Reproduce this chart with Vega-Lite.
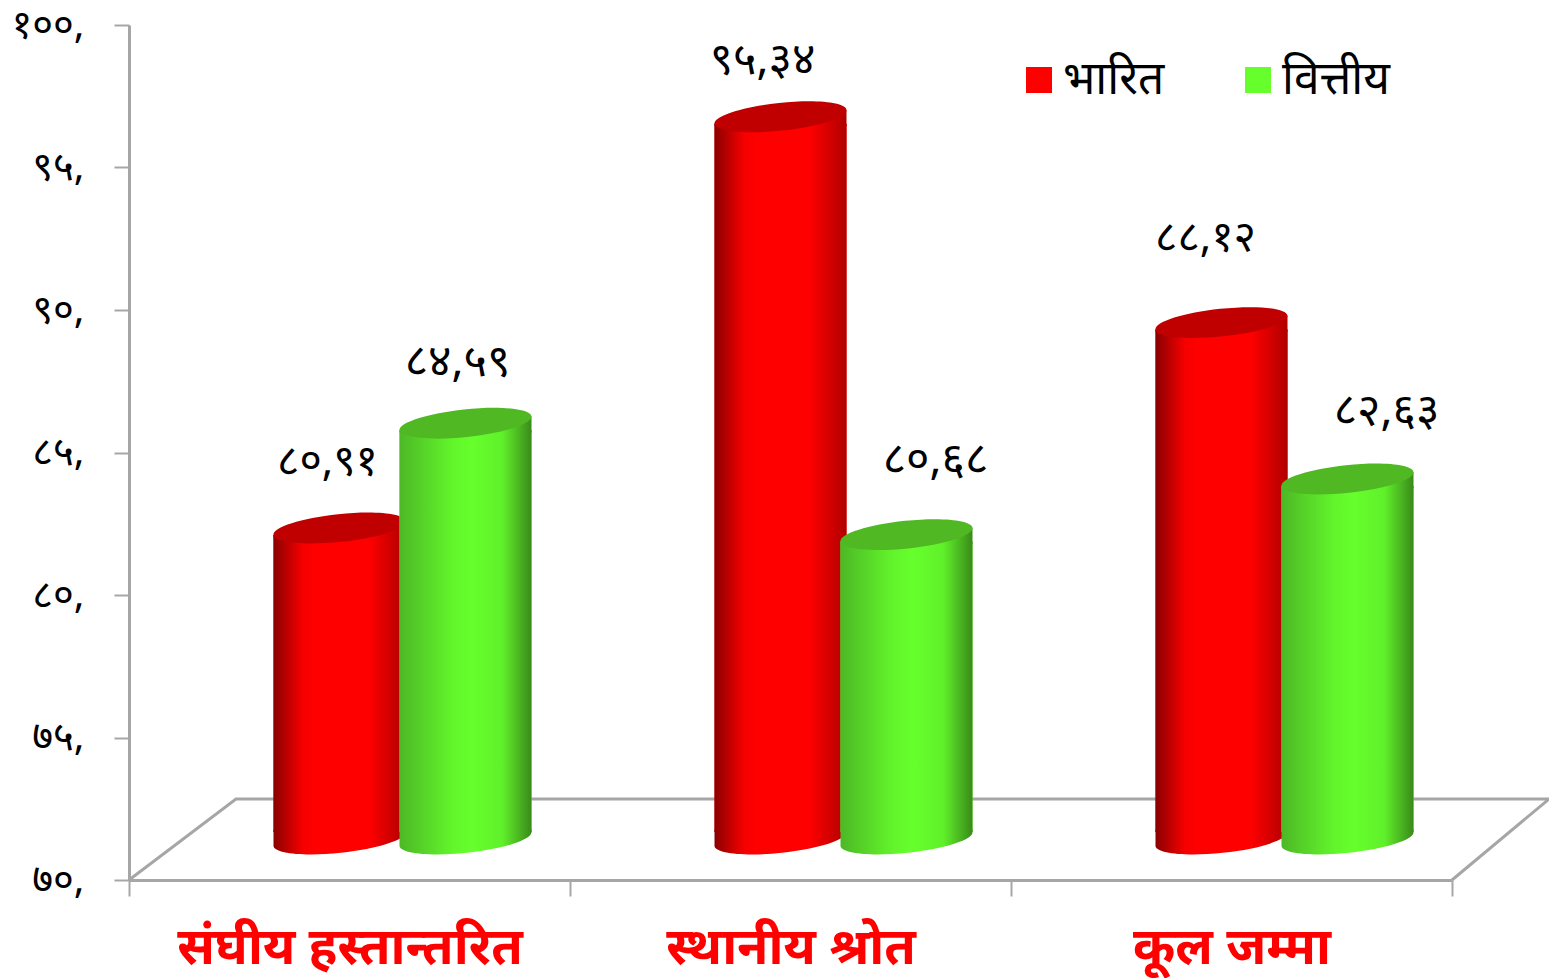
{"$schema":"https://vega.github.io/schema/vega-lite/v6.json","width":1323,"height":855,"autosize":{"type":"none"},"padding":{"left":129,"top":25,"right":97,"bottom":98},"background":"white","config":{"view":{"stroke":null}},
"datasets":{"bars":[
{"group":"संघीय हस्तान्तरित","series":"भारित","value":80.91,"label":"८०,९१"},
{"group":"संघीय हस्तान्तरित","series":"वित्तीय","value":84.59,"label":"८४,५९"},
{"group":"स्थानीय श्रोत","series":"भारित","value":95.34,"label":"९५,३४"},
{"group":"स्थानीय श्रोत","series":"वित्तीय","value":80.68,"label":"८०,६८"},
{"group":"कूल जम्मा","series":"भारित","value":88.12,"label":"८८,१२"},
{"group":"कूल जम्मा","series":"वित्तीय","value":82.63,"label":"८२,६३"}],
"floor":[{"o":0,"fx":0,"fv":70},{"o":1,"fx":107,"fv":72.84},{"o":2,"fx":1420,"fv":72.84},{"o":3,"fx":1323,"fv":70}]},
"layer":[
{"data":{"name":"floor"},"mark":{"type":"line","color":"#a6a6a6","strokeWidth":3,"clip":false},"encoding":{"x":{"field":"fx","type":"quantitative","axis":null,"scale":{"domain":[0,1323],"nice":false,"zero":false}},"y":{"field":"fv","type":"quantitative","scale":{"domain":[70,100],"nice":false,"zero":false},"axis":{"title":null,"values":[70,75,80,85,90,95,100],"grid":false,"domainColor":"#a6a6a6","domainWidth":3,"tickColor":"#a6a6a6","tickWidth":2,"tickSize":15,"labelFont":"Noto Sans","labelFontSize":40,"labelColor":"#000000","labelPadding":30,"labelExpr":"{'70':'७०,','75':'७५,','80':'८०,','85':'८५,','90':'९०,','95':'९५,','100':'१००,'}[datum.value]"}},"order":{"field":"o"}}},
{"data":{"name":"bars"},"encoding":{"x":{"field":"group","type":"nominal","sort":null,"scale":{"domain":["संघीय हस्तान्तरित","स्थानीय श्रोत","कूल जम्मा"],"paddingInner":0,"paddingOuter":0},"axis":{"title":null,"labelAngle":0,"tickBand":"extent","domainColor":"#a6a6a6","domainWidth":3,"tickColor":"#a6a6a6","tickWidth":2,"tickSize":16,"labelFont":"Noto Sans","labelFontWeight":"bold","labelFontSize":51,"labelColor":"#ff0000","labelPadding":27,"labelLimit":500}},
"y":{"field":"value","type":"quantitative"}},
"layer":[
{"transform":[{"filter":"datum.series==='भारित'"}],"layer":[
{"mark":{"type":"bar","width":132,"xOffset":-10,"yOffset":-34,"y2Offset":-48},"encoding":{"y2":{"datum":70},"color":{"field":"series","type":"nominal","scale":{"domain":["भारित","वित्तीय"],"range":["#ff0000","#66ff2c"]},"legend":{"title":null,"orient":"none","legendX":887,"legendY":32,"direction":"horizontal","columns":2,"symbolType":"square","symbolSize":676,"symbolStrokeWidth":0,"symbolOpacity":1,"labelFont":"Noto Sans","labelFontSize":46,"labelColor":"#000000","labelLimit":300,"labelOffset":1,"columnPadding":70}}}},
{"mark":{"type":"bar","width":132,"xOffset":-10,"yOffset":-34,"y2Offset":-48,"fill":{"gradient":"linear","x1":0,"y1":0,"x2":1,"y2":0,"stops":[{"offset":0,"color":"#8a0000"},{"offset":0.22,"color":"#f50000"},{"offset":0.32,"color":"#ff0000"},{"offset":0.72,"color":"#ff0000"},{"offset":1,"color":"#b00000"}]}},"encoding":{"y2":{"datum":70}}},
{"mark":{"type":"point","filled":true,"opacity":1,"size":17424,"xOffset":-10,"yOffset":-41,"shape":"M -1 0.105 L 1 -0.105 L 1 0.14 L -1 0.14 Z","fill":{"gradient":"linear","x1":0,"y1":0,"x2":1,"y2":0,"stops":[{"offset":0,"color":"#8a0000"},{"offset":0.22,"color":"#f50000"},{"offset":0.32,"color":"#ff0000"},{"offset":0.72,"color":"#ff0000"},{"offset":1,"color":"#b00000"}]}}},
{"mark":{"type":"point","filled":true,"opacity":1,"size":17424,"xOffset":-10,"yOffset":-41,"shape":"M 1 -0.105 A 1.005 0.21 -6 0 1 -1 0.105 L -1 -0.14 L 1 -0.14 Z","fill":{"gradient":"linear","x1":0,"y1":0,"x2":1,"y2":0,"stops":[{"offset":0,"color":"#8a0000"},{"offset":0.22,"color":"#f50000"},{"offset":0.32,"color":"#ff0000"},{"offset":0.72,"color":"#ff0000"},{"offset":1,"color":"#b00000"}]}},"encoding":{"y":{"datum":70}}},
{"mark":{"type":"point","filled":true,"opacity":1,"size":17424,"xOffset":-10,"yOffset":-41,"color":"#c00000","shape":"M -1 0.105 A 1.005 0.21 -6 1 1 1 -0.105 A 1.005 0.21 -6 1 1 -1 0.105 Z"}}
]},
{"transform":[{"filter":"datum.series==='वित्तीय'"}],"layer":[
{"mark":{"type":"bar","width":132,"xOffset":116,"yOffset":-34,"y2Offset":-48},"encoding":{"y2":{"datum":70},"color":{"field":"series","type":"nominal"}}},
{"mark":{"type":"bar","width":132,"xOffset":116,"yOffset":-34,"y2Offset":-48,"fill":{"gradient":"linear","x1":0,"y1":0,"x2":1,"y2":0,"stops":[{"offset":0,"color":"#4db826"},{"offset":0.4,"color":"#62f52b"},{"offset":0.55,"color":"#66ff2c"},{"offset":0.78,"color":"#60f02a"},{"offset":1,"color":"#3a8a1a"}]}},"encoding":{"y2":{"datum":70}}},
{"mark":{"type":"point","filled":true,"opacity":1,"size":17424,"xOffset":116,"yOffset":-41,"shape":"M -1 0.105 L 1 -0.105 L 1 0.14 L -1 0.14 Z","fill":{"gradient":"linear","x1":0,"y1":0,"x2":1,"y2":0,"stops":[{"offset":0,"color":"#4db826"},{"offset":0.4,"color":"#62f52b"},{"offset":0.55,"color":"#66ff2c"},{"offset":0.78,"color":"#60f02a"},{"offset":1,"color":"#3a8a1a"}]}}},
{"mark":{"type":"point","filled":true,"opacity":1,"size":17424,"xOffset":116,"yOffset":-41,"shape":"M 1 -0.105 A 1.005 0.21 -6 0 1 -1 0.105 L -1 -0.14 L 1 -0.14 Z","fill":{"gradient":"linear","x1":0,"y1":0,"x2":1,"y2":0,"stops":[{"offset":0,"color":"#4db826"},{"offset":0.4,"color":"#62f52b"},{"offset":0.55,"color":"#66ff2c"},{"offset":0.78,"color":"#60f02a"},{"offset":1,"color":"#3a8a1a"}]}},"encoding":{"y":{"datum":70}}},
{"mark":{"type":"point","filled":true,"opacity":1,"size":17424,"xOffset":116,"yOffset":-41,"color":"#4fb823","shape":"M -1 0.105 A 1.005 0.21 -6 1 1 1 -0.105 A 1.005 0.21 -6 1 1 -1 0.105 Z"}}
]},
{"transform":[{"filter":"datum.label==='८०,९१'"}],"mark":{"type":"text","font":"Noto Sans","fontSize":43,"color":"#000000","dx":-22,"dy":-107},"encoding":{"text":{"field":"label"}}},
{"transform":[{"filter":"datum.label==='८४,५९'"}],"mark":{"type":"text","font":"Noto Sans","fontSize":45,"color":"#000000","dx":108,"dy":-102},"encoding":{"text":{"field":"label"}}},
{"transform":[{"filter":"datum.label==='९५,३४'"}],"mark":{"type":"text","font":"Noto Sans","fontSize":45,"color":"#000000","dx":-28,"dy":-98},"encoding":{"text":{"field":"label"}}},
{"transform":[{"filter":"datum.label==='८०,६८'"}],"mark":{"type":"text","font":"Noto Sans","fontSize":45,"color":"#000000","dx":145,"dy":-116},"encoding":{"text":{"field":"label"}}},
{"transform":[{"filter":"datum.label==='८८,१२'"}],"mark":{"type":"text","font":"Noto Sans","fontSize":43,"color":"#000000","dx":-26,"dy":-126},"encoding":{"text":{"field":"label"}}},
{"transform":[{"filter":"datum.label==='८२,६३'"}],"mark":{"type":"text","font":"Noto Sans","fontSize":45,"color":"#000000","dx":155,"dy":-109},"encoding":{"text":{"field":"label"}}}
]}
],
"resolve":{"scale":{"x":"independent"},"axis":{"x":"independent"}}}
